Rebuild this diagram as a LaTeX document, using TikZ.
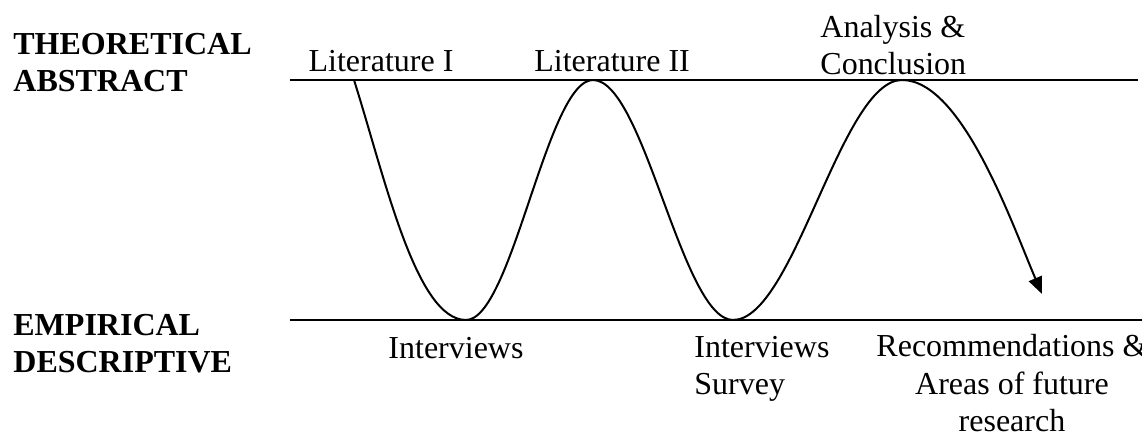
\documentclass[tikz,border=0pt]{standalone}
\usepackage{fontspec}
\setmainfont{Liberation Serif}
\usetikzlibrary{arrows.meta}
\tikzset{
  lvl/.style={line width=1.2pt},
  wave/.style={line width=1pt},
  lbl/.style={font=\fontsize{16}{18.75}\selectfont, inner sep=0pt},
  side/.style={font=\fontsize{16}{18.75}\selectfont\bfseries, inner sep=0pt, align=left, anchor=base west}
}

\begin{document}
\begin{tikzpicture}[x=0.5pt,y=-0.5pt]
\useasboundingbox (0,0) rectangle (1142,432);
% the two levels
\coordinate (tl) at (290,80);
\coordinate (tr) at (1138,80);
\coordinate (bl) at (290,320);
\coordinate (br) at (1142,320);
\draw[lvl] (tl) -- (tr);
\draw[lvl] (bl) -- (br);

% base anchor = last line
\node[side] (theo) at (13,92) {THEORETICAL\\ABSTRACT};
\node[side] (emp) at (13,373) {EMPIRICAL\\DESCRIPTIVE};

% the wave
\coordinate (s) at (354,80);
\coordinate (v1) at (466,320);
\coordinate (h1) at (593,80);
\coordinate (v2) at (733,320);
\coordinate (h2) at (902,80);
\coordinate (e) at (1042,294);
\draw[wave,-{Triangle[length=8.5pt,width=7pt]}] (s) .. controls +(31,98) and +(-50,0) .. (v1)
  .. controls +(46,0) and +(-46,0) .. (h1)
  .. controls +(51,0) and +(-51,0) .. (v2)
  .. controls +(61,0) and +(-61,0) .. (h2)
  .. controls +(60,0) and +(-30,-70) .. (e);

\node[lbl, anchor=base] (lit1) at (381,72) {Literature I};
\node[lbl, anchor=base west] (lit2) at (534,72) {Literature II};
\node[lbl, anchor=base west, align=left] (ana) at (820,75) {Analysis \&\\Conclusion};
\node[lbl, anchor=base] (int1) at (456,359) {Interviews};
\node[lbl, anchor=base west, align=left] (int2) at (694,395) {Interviews\\Survey};
\node[lbl, anchor=base, align=center] (rec) at (1012,432) {Recommendations \&\\Areas of future\\research};
\end{tikzpicture}
\end{document}
